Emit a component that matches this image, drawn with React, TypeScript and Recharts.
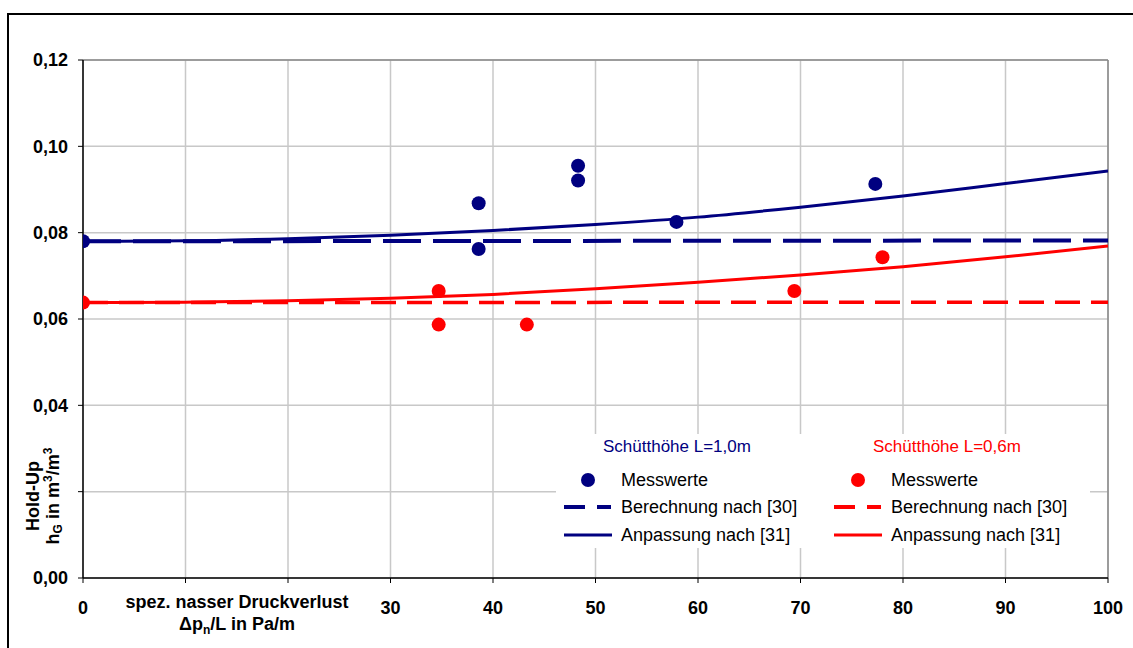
import {
  CartesianGrid,
  ComposedChart,
  Line,
  ReferenceLine,
  Scatter,
  XAxis,
  YAxis,
} from 'recharts'

const NAVY = '#000080'
const RED = '#ff0000'
const FONT = '"Liberation Sans", Arial, sans-serif'

// measured points
const blueMeasX = [0, 38.6, 38.6, 48.3, 48.3, 57.9, 77.3]
const blueMeasY = [0.078, 0.0868, 0.0762, 0.0955, 0.0921, 0.0825, 0.0913]
const redMeasX = [0, 34.7, 34.7, 43.3, 69.4, 78.0]
const redMeasY = [0.0638, 0.0665, 0.0587, 0.0587, 0.0665, 0.0743]

// fitted curves "Anpassung nach [31]"
const fitX = [0, 10, 20, 30, 40, 50, 60, 70, 80, 90, 100]
const blueFit = [0.078, 0.0781, 0.0786, 0.0794, 0.0805, 0.0819, 0.0836, 0.0859, 0.0885, 0.0914, 0.0943]
const redFit = [0.0638, 0.0639, 0.0642, 0.0648, 0.0657, 0.067, 0.0685, 0.0702, 0.0721, 0.0744, 0.0769]

// calculated "Berechnung nach [30]"
const calcX = [0, 100]
const blueCalc = [0.078, 0.0782]
const redCalc = [0.0638, 0.0639]

const xTicks = [0, 10, 20, 30, 40, 50, 60, 70, 80, 90, 100]
const yTicks = [0, 0.02, 0.04, 0.06, 0.08, 0.1, 0.12]
const hiddenX = [10, 20]
const hiddenY = [0.02]

const pairs = (xs: number[], ys: number[]) => xs.map((x, i) => ({ x, y: ys[i] }))

const dot = (color: string) => (p: any) => <circle cx={p.cx} cy={p.cy} r={7} fill={color} />

const tickStyle = { fontFamily: FONT, fontSize: 18, fontWeight: 700, fill: '#000' }

function LegendBox() {
  const txt = { position: 'absolute' as const, fontSize: 18, color: '#000', lineHeight: '20px' }
  const col = (left: number, color: string, title: string) => (
    <>
      <div style={{ ...txt, left: left + 15, top: 3, fontSize: 17, color }}>{title}</div>
      <svg style={{ position: 'absolute', left: left - 24, top: 0 }} width={60} height={114}>
        <circle cx={24} cy={46} r={7} fill={color} />
        <line x1={0} x2={47} y1={73} y2={73} stroke={color} strokeWidth={4} strokeDasharray="21 12" />
        <line x1={0} x2={48} y1={101} y2={101} stroke={color} strokeWidth={3} />
      </svg>
      <div style={{ ...txt, left: left + 33, top: 36 }}>Messwerte</div>
      <div style={{ ...txt, left: left + 33, top: 63 }}>Berechnung nach [30]</div>
      <div style={{ ...txt, left: left + 33, top: 91 }}>Anpassung nach [31]</div>
    </>
  )
  return (
    <div
      style={{
        position: 'absolute',
        left: 556,
        top: 434,
        width: 534,
        height: 114,
        background: '#fff',
        fontFamily: FONT,
      }}
    >
      {col(32, NAVY, 'Schütthöhe L=1,0m')}
      {col(302, RED, 'Schütthöhe L=0,6m')}
    </div>
  )
}

export default function App() {
  return (
    <div
      style={{
        position: 'absolute',
        left: 0,
        top: 0,
        width: 1133,
        height: 648,
        overflow: 'hidden',
        background: '#fff',
        fontFamily: FONT,
      }}
    >
      <div
        style={{
          position: 'absolute',
          left: 7,
          top: 13,
          width: 1200,
          height: 700,
          borderLeft: '2px solid #000',
          borderTop: '2px solid #000',
        }}
      />
      <ComposedChart
        width={1133}
        height={648}
        margin={{ top: 60, right: 25, bottom: 30, left: 0 }}
        style={{ position: 'absolute', left: 0, top: 0 }}
      >
        <CartesianGrid stroke="#c8c8c8" strokeWidth={1.5} />
        <XAxis
          type="number"
          dataKey="x"
          domain={[0, 100]}
          ticks={xTicks}
          allowDataOverflow
          height={40}
          tickSize={5}
          tickMargin={18}
          tick={tickStyle}
          tickFormatter={(v: number) => (hiddenX.includes(v) ? '' : String(v))}
          axisLine={{ stroke: '#000', strokeWidth: 1.5 }}
          tickLine={{ stroke: '#000' }}
        />
        <YAxis
          type="number"
          dataKey="y"
          domain={[0, 0.12]}
          ticks={yTicks}
          allowDataOverflow
          width={83}
          tickSize={5}
          tickMargin={10}
          tick={tickStyle}
          tickFormatter={(v: number) => (hiddenY.includes(v) ? '' : v.toFixed(2).replace('.', ','))}
          axisLine={{ stroke: '#000', strokeWidth: 1.5 }}
          tickLine={{ stroke: '#000' }}
        />
        <ReferenceLine y={0.12} stroke="#888" strokeWidth={1.5} />
        <ReferenceLine x={100} stroke="#888" strokeWidth={1.5} />
        <Line
          data={pairs(calcX, blueCalc)}
          dataKey="y"
          stroke={NAVY}
          strokeWidth={4}
          strokeDasharray="38 12"
          dot={false}
          isAnimationActive={false}
        />
        <Line
          data={pairs(calcX, redCalc)}
          dataKey="y"
          stroke={RED}
          strokeWidth={3.5}
          strokeDasharray="25 11"
          dot={false}
          isAnimationActive={false}
        />
        <Line
          data={pairs(fitX, blueFit)}
          dataKey="y"
          type="monotone"
          stroke={NAVY}
          strokeWidth={3}
          dot={false}
          isAnimationActive={false}
        />
        <Line
          data={pairs(fitX, redFit)}
          dataKey="y"
          type="monotone"
          stroke={RED}
          strokeWidth={3}
          dot={false}
          isAnimationActive={false}
        />
        <Scatter data={pairs(blueMeasX, blueMeasY)} dataKey="y" shape={dot(NAVY)} isAnimationActive={false} />
        <Scatter data={pairs(redMeasX, redMeasY)} dataKey="y" shape={dot(RED)} isAnimationActive={false} />
      </ComposedChart>
      <LegendBox />
      {/* y axis title */}
      <div
        style={{
          position: 'absolute',
          left: 47 - 80,
          top: 496 - 24,
          width: 160,
          height: 48,
          transform: 'rotate(-90deg)',
          textAlign: 'center',
          fontWeight: 700,
          fontSize: 18,
          lineHeight: '20px',
          color: '#000',
        }}
      >
        <div>Hold-Up</div>
        <div>
          h<sub style={{ fontSize: 12, verticalAlign: '-3px', lineHeight: 0 }}>G</sub> in m
          <sup style={{ fontSize: 12, verticalAlign: '7px', lineHeight: 0 }}>3</sup>/m
          <sup style={{ fontSize: 12, verticalAlign: '7px', lineHeight: 0 }}>3</sup>
        </div>
      </div>
      {/* x axis title */}
      <div
        style={{
          position: 'absolute',
          left: 237 - 150,
          top: 591,
          width: 300,
          textAlign: 'center',
          fontWeight: 700,
          fontSize: 18,
          lineHeight: '22px',
          color: '#000',
        }}
      >
        <div>spez. nasser Druckverlust</div>
        <div>
          Δp<sub style={{ fontSize: 12, verticalAlign: '-4px', lineHeight: 0 }}>n</sub>/L in Pa/m
        </div>
      </div>
    </div>
  )
}
